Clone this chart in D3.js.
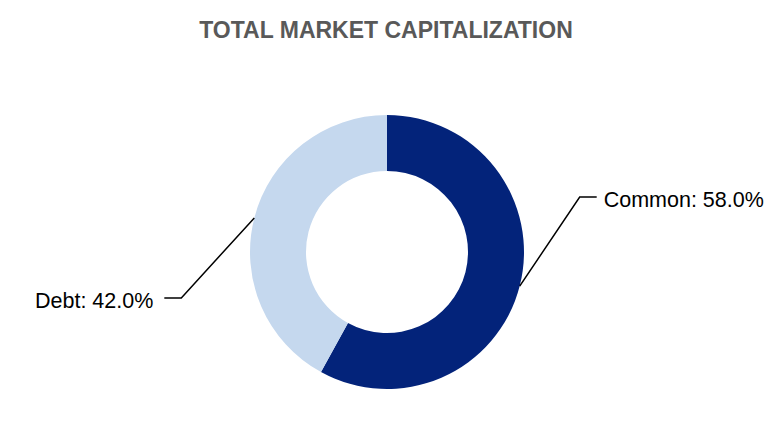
<!DOCTYPE html>
<html>
<head>
<meta charset="utf-8">
<script src="https://cdn.jsdelivr.net/npm/d3@7"></script>
<style>
  body { margin: 0; background: #fff; }
  text { font-family: "Liberation Sans", Arial, sans-serif; }
</style>
</head>
<body>
<svg id="chart" width="774" height="448"></svg>
<script>
var categories = ['Common', 'Debt'];
var shares = [58.0, 42.0];
var colors = ['#03237a', '#c5d8ee'];

var width = 774, height = 448,
  cx = 387, cy = 252,
  outerR = 137, innerR = 81;

// leader elbow offsets from the arc midpoint, and horizontal tail length
var leaders = [
  { dx: 60, dy: -89, tail: 17, gap: 7 },
  { dx: -73, dy: 80, tail: -17, gap: -11 }
];

var svg = d3.select('#chart');

svg.append('text')
  .attr('x', width / 2 - 1)
  .attr('y', 38)
  .attr('text-anchor', 'middle')
  .attr('font-size', '23px')
  .attr('font-weight', 'bold')
  .attr('fill', '#595959')
  .text('TOTAL MARKET CAPITALIZATION');

var pie = d3.pie().sort(null).value(function(d) { return d; });
var arcs = pie(shares);

var arc = d3.arc().innerRadius(innerR).outerRadius(outerR);
var edge = d3.arc().innerRadius(outerR).outerRadius(outerR);

var g = svg.append('g').attr('transform', 'translate(' + cx + ',' + cy + ')');

g.selectAll('path.slice')
  .data(arcs)
  .enter()
  .append('path')
  .attr('class', 'slice')
  .attr('d', arc)
  .attr('fill', function(d, i) { return colors[i]; });

// labels with elbow leader lines
arcs.forEach(function(d, i) {
  var p = edge.centroid(d);
  var L = leaders[i];
  var elbow = [p[0] + L.dx, p[1] + L.dy];
  var end = [elbow[0] + L.tail, elbow[1]];
  g.append('polyline')
    .attr('points', [p, elbow, end].map(function(q) { return q.join(','); }).join(' '))
    .attr('fill', 'none')
    .attr('stroke', '#000')
    .attr('stroke-width', 1.5);
  var right = L.tail > 0;
  g.append('text')
    .attr('x', end[0] + L.gap)
    .attr('y', end[1] + 10)
    .attr('text-anchor', right ? 'start' : 'end')
    .attr('font-size', '21.5px')
    .attr('fill', '#000')
    .text(categories[i] + ': ' + d3.format('.1f')(shares[i]) + '%');
});
</script>
</body>
</html>
